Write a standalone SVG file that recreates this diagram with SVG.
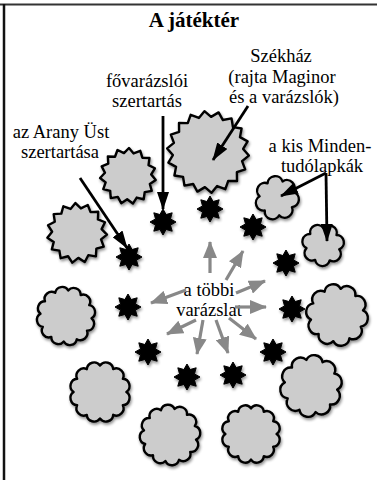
<svg xmlns="http://www.w3.org/2000/svg" xmlns:xlink="http://www.w3.org/1999/xlink" width="377" height="480" viewBox="0 0 377 480">
<style>
text{font-family:"Liberation Serif","Times New Roman",serif;fill:#000}
.lbl{font-size:18.5px;text-anchor:middle}
.title{font-size:21px;font-weight:bold;text-anchor:middle}
.cl{fill:#cccccc;stroke:#000;stroke-width:2.4;stroke-linejoin:round;vector-effect:non-scaling-stroke}
.st{fill:#000;stroke:#000;stroke-width:1;stroke-linejoin:round}
.ba{fill:none;stroke:#000;stroke-width:2.8;marker-end:url(#ah)}
.ga{fill:none;stroke:#888;stroke-width:3.2;marker-end:url(#gh)}
</style>
<defs>
<filter id="sh" x="-25%" y="-25%" width="150%" height="150%">
<feGaussianBlur in="SourceAlpha" stdDeviation="1.6"/>
<feOffset dx="1" dy="1.5"/>
<feComponentTransfer><feFuncA type="linear" slope="0.45"/></feComponentTransfer>
<feMerge><feMergeNode/><feMergeNode in="SourceGraphic"/></feMerge>
</filter>
<marker id="ah" viewBox="0 0 18 12" refX="17" refY="6" markerWidth="18" markerHeight="12" markerUnits="userSpaceOnUse" orient="auto"><path d="M0,0 L18,6 L0,12 Z" fill="#000"/></marker>
<marker id="gh" viewBox="0 0 17 14" refX="16" refY="7" markerWidth="17" markerHeight="14" markerUnits="userSpaceOnUse" orient="auto"><path d="M0,0 L17,7 L0,14 Z" fill="#888"/></marker>
<path id="c12" class="cl" d="M80,0 A22,22 0 0 1 69.28,40 A22,22 0 0 1 40,69.28 A22,22 0 0 1 0,80 A22,22 0 0 1 -40,69.28 A22,22 0 0 1 -69.28,40 A22,22 0 0 1 -80,0 A22,22 0 0 1 -69.28,-40 A22,22 0 0 1 -40,-69.28 A22,22 0 0 1 0,-80 A22,22 0 0 1 40,-69.28 A22,22 0 0 1 69.28,-40 A22,22 0 0 1 80,0Z"/>
<path id="c10" class="cl" d="M80,0 A26,26 0 0 1 64.72,47.02 A26,26 0 0 1 24.72,76.09 A26,26 0 0 1 -24.72,76.09 A26,26 0 0 1 -64.72,47.02 A26,26 0 0 1 -80,0 A26,26 0 0 1 -64.72,-47.02 A26,26 0 0 1 -24.72,-76.09 A26,26 0 0 1 24.72,-76.09 A26,26 0 0 1 64.72,-47.02 A26,26 0 0 1 80,0Z"/>
<path id="c7" class="cl" d="M70,0 A31,31 0 0 1 43.65,54.73 A31,31 0 0 1 -15.58,68.24 A31,31 0 0 1 -63.07,30.37 A31,31 0 0 1 -63.07,-30.37 A31,31 0 0 1 -15.58,-68.24 A31,31 0 0 1 43.65,-54.73 A31,31 0 0 1 70,0Z"/>
<polygon id="s18" class="cl" points="100,0 84.69,14.93 93.97,34.2 74.48,43 76.6,64.28 55.28,65.88 50,86.6 29.41,80.81 17.36,98.48 0,86 -17.36,98.48 -29.41,80.81 -50,86.6 -55.28,65.88 -76.6,64.28 -74.48,43 -93.97,34.2 -84.69,14.93 -100,0 -84.69,-14.93 -93.97,-34.2 -74.48,-43 -76.6,-64.28 -55.28,-65.88 -50,-86.6 -29.41,-80.81 -17.36,-98.48 0,-86 17.36,-98.48 29.41,-80.81 50,-86.6 55.28,-65.88 76.6,-64.28 74.48,-43 93.97,-34.2 84.69,-14.93"/>
<polygon id="s15" class="cl" points="100,0 81.18,17.26 91.35,40.67 67.15,48.79 66.91,74.31 41.5,71.88 30.9,95.11 8.67,82.54 -10.45,99.45 -25.65,78.94 -50,86.6 -55.54,61.68 -80.9,58.78 -75.82,33.76 -97.81,20.79 -83,0 -97.81,-20.79 -75.82,-33.76 -80.9,-58.78 -55.54,-61.68 -50,-86.6 -25.65,-78.94 -10.45,-99.45 8.67,-82.54 30.9,-95.11 41.5,-71.88 66.91,-74.31 67.15,-48.79 91.35,-40.67 81.18,-17.26"/>
<polygon id="star" class="st" points="0,-13 3.08,-7.45 9.19,-9.19 7.45,-3.08 13,0 7.45,3.08 9.19,9.19 3.08,7.45 0,13 -3.08,7.45 -9.19,9.19 -7.45,3.08 -13,0 -7.45,-3.08 -9.19,-9.19 -3.08,-7.45"/>
</defs>
<rect width="377" height="480" fill="#fff"/>
<g id="frame">
<line x1="0" y1="4.5" x2="377" y2="4.5" stroke="#333" stroke-width="2"/>
<line x1="4" y1="4" x2="4" y2="480" stroke="#111" stroke-width="2.5"/>
</g>
<g id="title"><text class="title" x="194" y="27">A játéktér</text></g>

<g id="cloud-szekhaz" filter="url(#sh)"><use xlink:href="#s18" transform="translate(208,152) scale(0.41) rotate(5)"/></g>
<g id="cloud-ul" filter="url(#sh)"><use xlink:href="#s15" transform="translate(128,176) scale(0.28) rotate(8)"/></g>
<g id="cloud-l1" filter="url(#sh)"><use xlink:href="#s15" transform="translate(77,233) scale(0.3) rotate(3)"/></g>
<g id="cloud-l2" filter="url(#sh)"><use xlink:href="#c12" transform="translate(66,316) scale(0.32) rotate(5)"/></g>
<g id="cloud-l3" filter="url(#sh)"><use xlink:href="#c12" transform="translate(100,392) scale(0.33)"/></g>
<g id="cloud-b1" filter="url(#sh)"><use xlink:href="#c12" transform="translate(170,435) scale(0.33) rotate(10)"/></g>
<g id="cloud-b2" filter="url(#sh)"><use xlink:href="#c12" transform="translate(251,434) scale(0.32)"/></g>
<g id="cloud-r3" filter="url(#sh)"><use xlink:href="#c10" transform="translate(311,386) scale(0.33) rotate(8)"/></g>
<g id="cloud-r2" filter="url(#sh)"><use xlink:href="#c10" transform="translate(337,315) scale(0.33) rotate(-10)"/></g>
<g id="tile-1" filter="url(#sh)"><use xlink:href="#c7" transform="translate(277,198) scale(0.25) rotate(-20)"/></g>
<g id="tile-2" filter="url(#sh)"><use xlink:href="#c7" transform="translate(323,245) scale(0.24) rotate(15)"/></g>

<g id="star-1" filter="url(#sh)"><use xlink:href="#star" x="163" y="222"/></g>
<g id="star-2" filter="url(#sh)"><use xlink:href="#star" x="210" y="209"/></g>
<g id="star-3" filter="url(#sh)"><use xlink:href="#star" x="253" y="227"/></g>
<g id="star-4" filter="url(#sh)"><use xlink:href="#star" x="129" y="257"/></g>
<g id="star-5" filter="url(#sh)"><use xlink:href="#star" x="286" y="263"/></g>
<g id="star-6" filter="url(#sh)"><use xlink:href="#star" x="128" y="307"/></g>
<g id="star-7" filter="url(#sh)"><use xlink:href="#star" x="292" y="309"/></g>
<g id="star-8" filter="url(#sh)"><use xlink:href="#star" x="148" y="352"/></g>
<g id="star-9" filter="url(#sh)"><use xlink:href="#star" x="273" y="352"/></g>
<g id="star-10" filter="url(#sh)"><use xlink:href="#star" x="187" y="377"/></g>
<g id="star-11" filter="url(#sh)"><use xlink:href="#star" x="233" y="375"/></g>

<g id="label-szekhaz"><text class="lbl" x="281" y="62">Székház</text><text class="lbl" x="282" y="83">(rajta Maginor</text><text class="lbl" x="284" y="103">és a varázslók)</text></g>
<g id="label-fovarazsloi"><text class="lbl" x="147" y="87">fővarázslói</text><text class="lbl" x="147" y="107">szertartás</text></g>
<g id="label-arany"><text class="lbl" x="61" y="138">az Arany Üst</text><text class="lbl" x="60" y="158">szertartása</text></g>
<g id="label-minden"><text class="lbl" x="320" y="152">a kis Minden-</text><text class="lbl" x="322" y="172">tudólapkák</text></g>
<g id="label-tobbi"><text class="lbl" x="209" y="296">a többi</text><text class="lbl" x="209" y="316">varázslat</text></g>

<g id="connectors">
<line class="ba" x1="248" y1="106" x2="213" y2="160"/>
<line class="ba" x1="163" y1="116" x2="163" y2="209"/>
<line class="ba" x1="80" y1="178" x2="127" y2="248"/>
<line class="ba" x1="326" y1="173" x2="281" y2="196"/>
<line class="ba" x1="326" y1="173" x2="327" y2="241"/>
<line class="ga" x1="210" y1="273" x2="210" y2="242"/>
<line class="ga" x1="226" y1="280" x2="243" y2="251"/>
<line class="ga" x1="236" y1="293" x2="265" y2="281"/>
<line class="ga" x1="186" y1="290" x2="151" y2="303"/>
<line class="ga" x1="235" y1="307" x2="266" y2="307"/>
<line class="ga" x1="196" y1="320" x2="167" y2="334"/>
<line class="ga" x1="203" y1="320" x2="197" y2="354"/>
<line class="ga" x1="216" y1="320" x2="228" y2="353"/>
<line class="ga" x1="229" y1="318" x2="256" y2="339"/>
</g>
</svg>
